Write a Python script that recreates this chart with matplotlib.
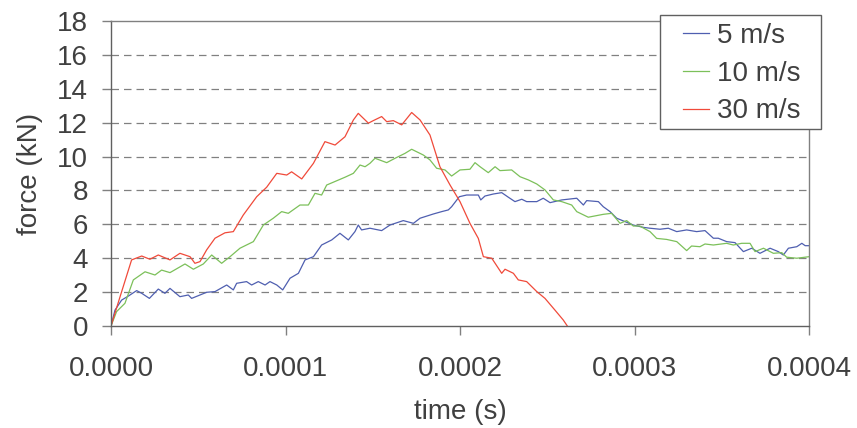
import matplotlib
matplotlib.use('Agg')
import matplotlib.pyplot as plt
from matplotlib.patches import Rectangle

# time in units of 1e-4 s, force in kN
t_5 = [0, 0.023, 0.061, 0.1, 0.147, 0.176, 0.22, 0.271, 0.309, 0.338, 0.395, 0.443, 0.462, 0.51, 0.548,
       0.596, 0.663, 0.701, 0.72, 0.777, 0.806, 0.844, 0.883, 0.911, 0.95, 0.984, 1.026, 1.074, 1.112, 1.16,
       1.207, 1.265, 1.312, 1.36, 1.398, 1.417, 1.436, 1.484, 1.551, 1.599, 1.675, 1.733, 1.771, 1.847, 1.895,
       1.933, 1.952, 1.996, 2.038, 2.105, 2.119, 2.143, 2.191, 2.239, 2.277, 2.315, 2.354, 2.382, 2.44, 2.477,
       2.516, 2.583, 2.669, 2.707, 2.726, 2.793, 2.821, 2.86, 2.898, 2.946, 2.993, 3.051, 3.089, 3.146, 3.194,
       3.242, 3.299, 3.356, 3.404, 3.452, 3.48, 3.528, 3.576, 3.624, 3.672, 3.719, 3.777, 3.824, 3.853, 3.882,
       3.93, 3.959, 3.978, 4.0]
f_5 = [0, 0.94, 1.53, 1.77, 2.09, 1.93, 1.63, 2.18, 1.93, 2.22, 1.73, 1.83, 1.63, 1.83, 1.99,
       2.03, 2.42, 2.13, 2.52, 2.62, 2.42, 2.62, 2.42, 2.62, 2.42, 2.13, 2.82, 3.11, 3.9, 4.09,
       4.78, 5.08, 5.47, 5.08, 5.57, 5.96, 5.67, 5.77, 5.63, 5.96, 6.22, 6.06, 6.36, 6.61, 6.75,
       6.85, 7.04, 7.63, 7.73, 7.73, 7.44, 7.67, 7.79, 7.87, 7.6, 7.34, 7.48, 7.34, 7.34, 7.54,
       7.28, 7.44, 7.54, 7.14, 7.4, 7.34, 7.04, 6.75, 6.36, 6.16, 5.96, 5.82, 5.77, 5.71, 5.77,
       5.57, 5.67, 5.57, 5.63, 5.18, 5.18, 4.98, 4.92, 4.39, 4.59, 4.29, 4.59, 4.39, 4.19, 4.59,
       4.68, 4.88, 4.74, 4.74]

t_10 = [0, 0.032, 0.08, 0.128, 0.195, 0.252, 0.29, 0.338, 0.424, 0.472, 0.529, 0.577, 0.634, 0.682, 0.739,
        0.816, 0.873, 0.93, 0.978, 1.016, 1.083, 1.131, 1.169, 1.207, 1.236, 1.341, 1.389, 1.427, 1.456, 1.484,
        1.513, 1.58, 1.628, 1.685, 1.723, 1.79, 1.828, 1.866, 1.914, 1.952, 2.0, 2.057, 2.086, 2.115, 2.162,
        2.201, 2.229, 2.296, 2.344, 2.392, 2.44, 2.487, 2.535, 2.583, 2.64, 2.669, 2.735, 2.821, 2.869, 2.917,
        2.955, 2.993, 3.03, 3.089, 3.127, 3.184, 3.242, 3.299, 3.327, 3.375, 3.404, 3.452, 3.528, 3.566, 3.614,
        3.662, 3.691, 3.739, 3.796, 3.844, 3.872, 3.93, 4.0]
f_10 = [0, 0.85, 1.34, 2.72, 3.2, 3.01, 3.3, 3.15, 3.66, 3.35, 3.66, 4.19, 3.7, 4.09, 4.59,
        4.98, 5.96, 6.36, 6.75, 6.65, 7.14, 7.14, 7.83, 7.73, 8.32, 8.78, 9.01, 9.5, 9.4, 9.6,
        9.9, 9.64, 9.9, 10.19, 10.43, 10.09, 9.8, 9.31, 9.21, 8.85, 9.21, 9.25, 9.64, 9.4, 9.05,
        9.4, 9.17, 9.21, 8.81, 8.62, 8.38, 8.03, 7.44, 7.34, 7.14, 6.75, 6.42, 6.59, 6.65, 6.06,
        6.22, 5.9, 5.9, 5.57, 5.17, 5.11, 4.98, 4.45, 4.72, 4.68, 4.84, 4.78, 4.88, 4.78, 4.88,
        4.88, 4.39, 4.59, 4.29, 4.33, 4.06, 4.0, 4.09]

t_30 = [0, 0.052, 0.118, 0.176, 0.223, 0.271, 0.338, 0.395, 0.453, 0.481, 0.51, 0.548, 0.596, 0.653, 0.701,
        0.758, 0.835, 0.892, 0.95, 1.007, 1.035, 1.093, 1.16, 1.226, 1.284, 1.341, 1.389, 1.417, 1.475, 1.503,
        1.551, 1.58, 1.618, 1.666, 1.723, 1.771, 1.828, 1.885, 1.943, 2.0, 2.057, 2.105, 2.134, 2.182, 2.239,
        2.258, 2.306, 2.334, 2.382, 2.44, 2.487, 2.544, 2.592, 2.615]
f_30 = [0, 1.73, 3.9, 4.13, 3.94, 4.19, 3.9, 4.29, 4.09, 3.7, 3.8, 4.49, 5.18, 5.5, 5.57,
        6.55, 7.63, 8.19, 9.01, 8.91, 9.1, 8.68, 9.6, 10.88, 10.68, 11.17, 12.16, 12.55, 11.97, 12.12,
        12.36, 12.06, 12.12, 11.87, 12.6, 12.16, 11.27, 9.4, 8.32, 7.34, 6.06, 5.17, 4.09, 4.0, 3.11,
        3.35, 3.11, 2.72, 2.62, 2.03, 1.63, 0.94, 0.35, 0.0]

labels = ['5 m/s', '10 m/s', '30 m/s']
colors = ['#4f5fb0', '#7cc05a', '#f04a3a']
xticks = [0, 0.0001, 0.0002, 0.0003, 0.0004]
yticks = list(range(0, 19, 2))

plt.rcParams['font.family'] = ['Liberation Sans', 'DejaVu Sans']
txt = '#404040'
grey = '#808080'
W, H = 857, 428

fig = plt.figure(figsize=(W/100, H/100), dpi=100)
ax = fig.add_axes([111/W, 1 - 326/H, 698/W, 305/H])

for t, f, lab, c in zip([t_5, t_10, t_30], [f_5, f_10, f_30], labels, colors):
    ax.plot([v*1e-4 for v in t], f, color=c, lw=0.9, label=lab)

ax.set_xlim(0, 0.0004)
ax.set_ylim(0, 18)
ax.set_xticks(xticks)
ax.set_xticklabels([f'{v:.4f}' for v in xticks])
ax.set_yticks(yticks)
for y in yticks[1:-1]:
    ax.axhline(y, color=grey, lw=0.9, ls=(0, (6, 4)), zorder=0)

for s in ax.spines.values():
    s.set_color(grey)
    s.set_linewidth(1.0)
ax.spines['left'].set_color('#606060')
ax.spines['bottom'].set_color('#606060')
ax.tick_params(direction='out', length=6.5, width=1, color=grey, labelsize=20, labelcolor=txt)
ax.tick_params(axis='x', pad=15)
ax.tick_params(axis='y', pad=10)
ax.set_xlabel('time (s)', fontsize=20, color=txt, labelpad=12)
ax.set_ylabel('force (kN)', fontsize=20, color=txt, labelpad=10)

# legend: frame drawn separately, since the box has wide side margins
ax.add_patch(Rectangle((660/W, 1 - 129/H), 161/W, 114/H, transform=fig.transFigure,
                       facecolor='white', edgecolor='#606060', lw=1.0, zorder=5, clip_on=False))
leg = ax.legend(loc='upper left', bbox_to_anchor=(683/W, 1 - 23/H), bbox_transform=fig.transFigure,
                fontsize=20, frameon=False, handlelength=0.93, handletextpad=0.3,
                borderpad=0, labelspacing=0.42, borderaxespad=0)
leg.set_zorder(6)
for tx in leg.get_texts():
    tx.set_color(txt)

fig.savefig('out.png', dpi=100)
